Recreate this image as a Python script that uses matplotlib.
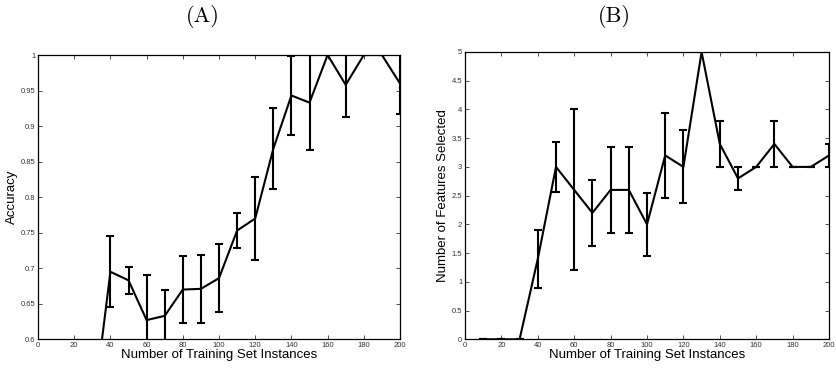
import numpy as np
import matplotlib
matplotlib.use("Agg")
import matplotlib.pyplot as plt

# training set sizes
sizes = [10, 20, 30, 40, 50, 60, 70, 80, 90, 100, 110, 120, 130, 140, 150, 160, 170, 180, 190, 200]

# (A) accuracy and its error bars
acc = [0.49, 0.49, 0.49, 0.695, 0.683, 0.627, 0.633, 0.670, 0.671, 0.686, 0.753, 0.770,
       0.868, 0.943, 0.933, 1.0, 0.958, 1.0, 1.0, 0.960]
acc_err = [0, 0, 0, 0.050, 0.019, 0.064, 0.036, 0.047, 0.048, 0.048, 0.024, 0.059,
           0.057, 0.056, 0.067, 0, 0.045, 0, 0, 0.043]

# (B) number of features selected
feat = [0, 0, 0, 1.4, 3.0, 2.6, 2.2, 2.6, 2.6, 2.0, 3.2, 3.0,
        5.0, 3.4, 2.8, 3.0, 3.4, 3.0, 3.0, 3.2]
feat_err = [0, 0, 0, 0.51, 0.44, 1.4, 0.58, 0.745, 0.745, 0.55, 0.74, 0.635,
            0, 0.4, 0.2, 0, 0.4, 0, 0, 0.2]

x_ticks = [0, 20, 40, 60, 80, 100, 120, 140, 160, 180, 200]
acc_ticks = [0.6, 0.65, 0.7, 0.75, 0.8, 0.85, 0.9, 0.95, 1]
feat_ticks = [0, 0.5, 1, 1.5, 2, 2.5, 3, 3.5, 4, 4.5, 5]

plt.rcParams['font.family'] = ['Liberation Sans', 'DejaVu Sans']


def fmt(v):
	return "%g" % v


def style_axes(ax, yticks, ylabel):
	ax.set_xlim(0, 200)
	ax.set_xticks(x_ticks)
	ax.set_xticklabels([fmt(t) for t in x_ticks])
	ax.set_yticks(yticks)
	ax.set_yticklabels([fmt(t) for t in yticks])
	ax.tick_params(direction='in', length=3, width=0.6, labelsize=5.5, pad=2,
				   top=True, right=True, colors='#333333', labelcolor='#333333')
	for s in ax.spines.values():
		s.set_linewidth(0.9)
	ax.set_xlabel("Number of Training Set Instances", fontsize=9.5, labelpad=0)
	ax.set_ylabel(ylabel, fontsize=9.5, labelpad=2)


fig = plt.figure(figsize=(8.36, 3.70), dpi=100)

axA = fig.add_axes([38/836, 30.7/370, 362/836, 284.3/370])
axA.errorbar(sizes, acc, yerr=acc_err, color='black', lw=1.5, capsize=2.6,
			 capthick=1.5, elinewidth=1.5)
axA.set_ylim(0.6, 1)
style_axes(axA, acc_ticks, "Accuracy")

axB = fig.add_axes([465/836, 30.7/370, 364/836, 287.3/370])
axB.errorbar(sizes, feat, yerr=feat_err, color='black', lw=1.5, capsize=2.6,
			 capthick=1.5, elinewidth=1.5, clip_on=True)
axB.set_ylim(0, 5)
style_axes(axB, feat_ticks, "Number of Features Selected")

fig.text(203/836, 1 - 17/370, "(A)", family='cmr10', fontsize=16, ha='center', va='center')
fig.text(614/836, 1 - 17/370, "(B)", family='cmr10', fontsize=16, ha='center', va='center')

fig.savefig("out.png", dpi=100)
